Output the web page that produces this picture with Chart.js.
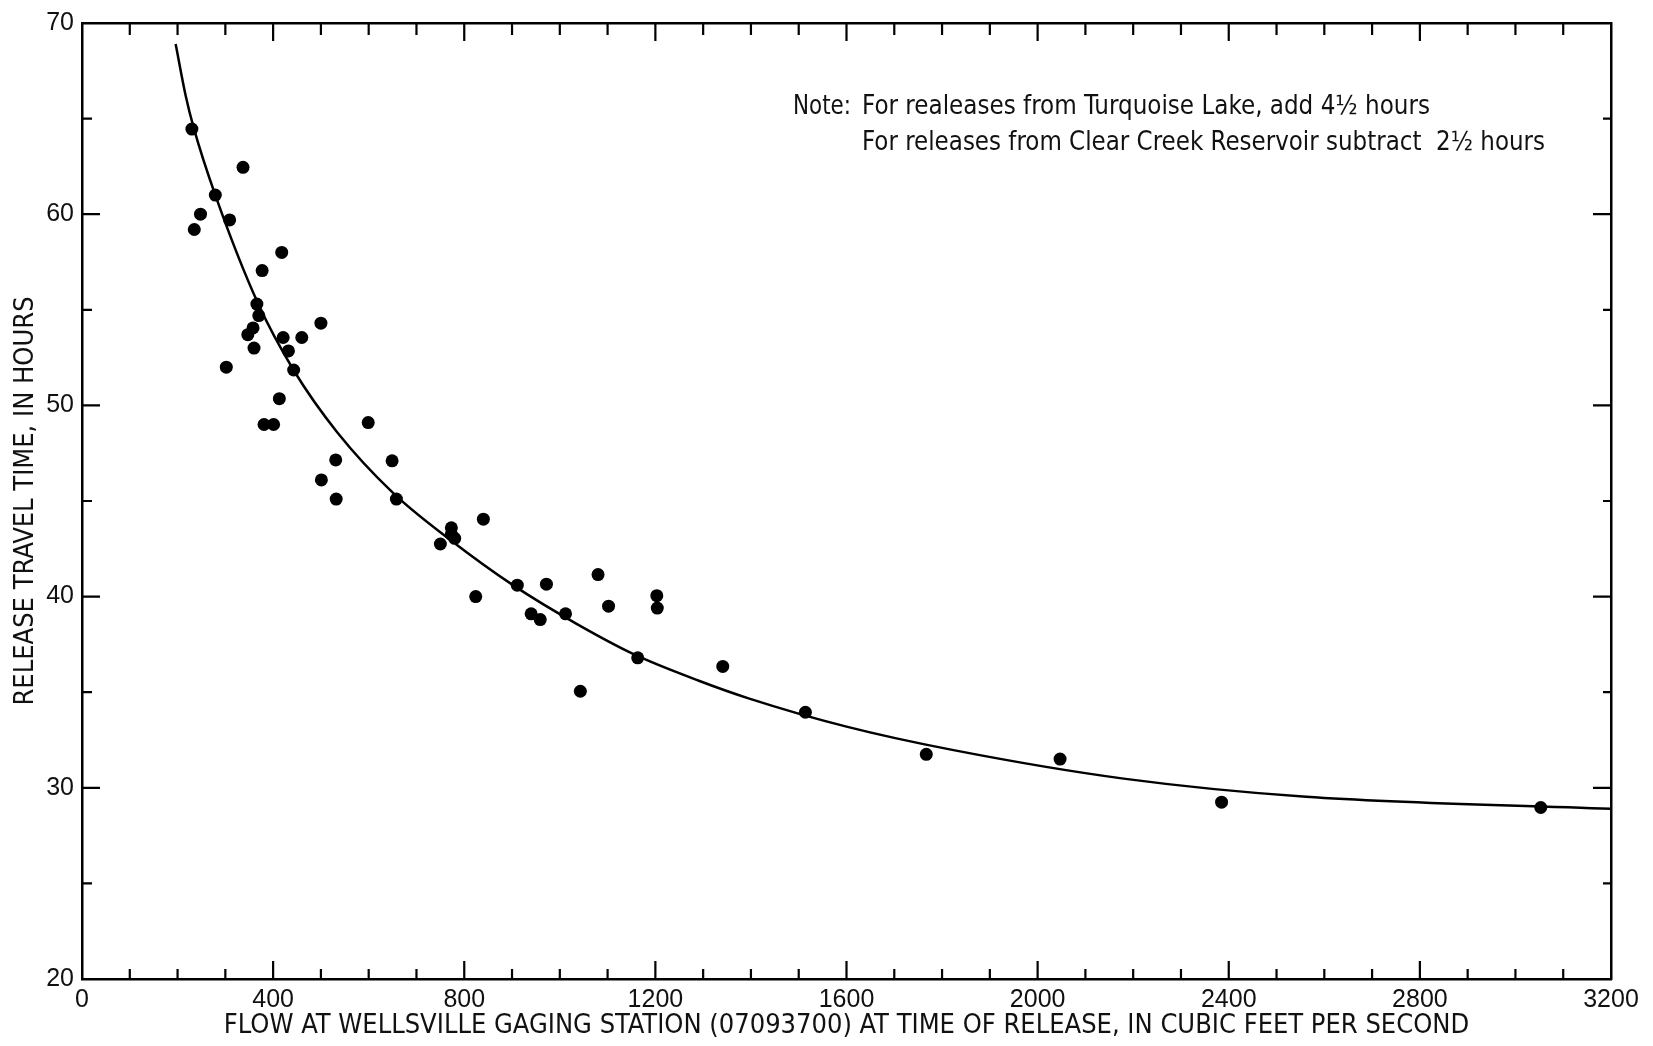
<!DOCTYPE html>
<html>
<head>
<meta charset="utf-8">
<title>Release travel time vs flow at Wellsville</title>
<script src="https://cdn.jsdelivr.net/npm/chart.js@4.4.1/dist/chart.umd.min.js"></script>
<style>
  html, body { margin: 0; padding: 0; background: #fff; }
  #wrap { width: 1653px; height: 1046px; }
</style>
</head>
<body>
<div id="wrap"><canvas id="chart" width="1653" height="1046"></canvas></div>
<script>
// measured releases: flow (cfs) and travel time (hours)
const flowCfs = [230, 235, 248, 279, 309, 337, 302, 377, 366, 370, 358, 347, 360, 418, 421, 460, 432, 443, 500, 413,
  381, 401, 599, 501, 531, 532, 649, 658, 750, 773, 773, 780, 840, 824, 911, 940, 959, 972, 1012, 1043,
  1080, 1102, 1163, 1203, 1204, 1341, 1514, 1767, 2047, 2385, 3053];
const travelHours = [64.45, 59.2, 60.0, 61.0, 59.7, 62.45, 52.0, 57.05, 55.3, 54.7, 54.05, 53.7, 53.0, 58.0, 53.55, 53.55, 52.85, 51.85, 54.3, 50.35,
  49.0, 49.0, 49.1, 46.1, 47.15, 45.1, 47.1, 45.1, 42.75, 43.6, 43.25, 43.05, 44.05, 40.0, 40.6, 39.1, 38.8, 40.65, 39.1, 35.05,
  41.15, 39.5, 36.8, 40.05, 39.4, 36.35, 33.95, 31.75, 31.5, 29.25, 28.97];

// fitted curve
const curveFlow = [196, 217, 234, 279, 369, 444, 534, 652, 769, 902, 1037, 1158, 1291, 1395, 1600, 1824, 2180, 2562, 3199];
const curveHours = [68.9, 66.2, 64.5, 61.0, 55.3, 51.8, 48.6, 45.4, 43.0, 40.6, 38.55, 36.95, 35.6, 34.68, 33.2, 31.97, 30.48, 29.53, 28.9];

const xTickLabels = [0, 400, 800, 1200, 1600, 2000, 2400, 2800, 3200];
const yTickLabels = [20, 30, 40, 50, 60, 70];

const xTitle = "FLOW AT WELLSVILLE GAGING STATION (07093700) AT TIME OF RELEASE, IN CUBIC FEET PER SECOND";
const yTitle = "RELEASE TRAVEL TIME, IN HOURS";
const noteHead = "Note:";
const noteLines = [
  "For realeases from Turquoise Lake, add 4½ hours",
  "For releases from Clear Creek Reservoir subtract  2½ hours"
];

const letterFamily = "'DejaVu Sans Condensed', 'Liberation Sans Narrow', 'DejaVu Sans', sans-serif";
const titleFont = { family: letterFamily, size: 27 };
const tickFont = { family: "'Liberation Sans', Arial, sans-serif", size: 25 };

// inward tick marks on all four sides, like the original drafting
const inwardTicks = {
  id: "inwardTicks",
  afterDraw(chart) {
    const { ctx, chartArea: a, scales: { x, y } } = chart;
    ctx.save();
    ctx.strokeStyle = "#000";
    ctx.lineWidth = 2.2;
    ctx.beginPath();
    for (let v = 100; v < 3200; v += 100) {
      const px = x.getPixelForValue(v);
      const major = v % 400 === 0;
      ctx.moveTo(px, a.bottom);
      ctx.lineTo(px, a.bottom - (major ? 18 : 10));
      ctx.moveTo(px, a.top);
      ctx.lineTo(px, a.top + (major ? 18 : 12));
    }
    for (let v = 25; v < 70; v += 5) {
      const py = y.getPixelForValue(v);
      const major = v % 10 === 0;
      ctx.moveTo(a.left, py);
      ctx.lineTo(a.left + (major ? 18 : 10), py);
      ctx.moveTo(a.right, py);
      ctx.lineTo(a.right - (major ? 18 : 8), py);
    }
    ctx.stroke();
    ctx.restore();
  }
};

// the note in the upper right, squeezed to the lettering width of the original
const notePlugin = {
  id: "note",
  afterDraw(chart) {
    const ctx = chart.ctx;
    ctx.save();
    ctx.fillStyle = "#111";
    ctx.font = "27px " + letterFamily;
    ctx.textBaseline = "middle";
    const fit = (text, x, y, w) => {
      const m = ctx.measureText(text).width;
      ctx.save();
      ctx.translate(x, y);
      ctx.scale(w / m, 1);
      ctx.fillText(text, 0, 0);
      ctx.restore();
    };
    fit(noteHead, 793, 107, 58);
    fit(noteLines[0], 862, 107, 568);
    fit(noteLines[1], 862, 143, 683);
    ctx.restore();
  }
};

const points = flowCfs.map((f, i) => ({ x: f, y: travelHours[i] }));
const curve = curveFlow.map((f, i) => ({ x: f, y: curveHours[i] }));

const border = { display: true, color: "#000", width: 2.5 };

new Chart(document.getElementById("chart"), {
  type: "scatter",
  data: {
    datasets: [
      {
        label: "Curve",
        type: "line",
        data: curve,
        borderColor: "#000",
        borderWidth: 2.5,
        pointRadius: 0,
        fill: false,
        cubicInterpolationMode: "monotone"
      },
      {
        label: "Releases",
        data: points,
        backgroundColor: "#000",
        borderWidth: 0,
        pointRadius: 6.5
      }
    ]
  },
  options: {
    responsive: false,
    animation: false,
    layout: { padding: 0 },
    plugins: { legend: { display: false }, tooltip: { enabled: false } },
    scales: {
      x: {
        type: "linear",
        position: "bottom",
        min: 0,
        max: 3200,
        afterFit: s => { s.height = 67; },
        afterBuildTicks: s => { s.ticks = xTickLabels.map(v => ({ value: v })); },
        ticks: { callback: v => String(v), color: "#111", font: tickFont, padding: 6, maxRotation: 0, autoSkip: false },
        grid: { display: false, drawTicks: false },
        border: border,
        title: { display: true, text: xTitle, color: "#111", font: titleFont, padding: { top: 0, bottom: 4 } }
      },
      y: {
        type: "linear",
        position: "left",
        min: 20,
        max: 70,
        afterFit: s => { s.width = 82; },
        afterBuildTicks: s => { s.ticks = yTickLabels.map(v => ({ value: v })); },
        ticks: { callback: v => String(v), color: "#111", font: tickFont, padding: 8 },
        grid: { display: false, drawTicks: false },
        border: border,
        title: { display: true, text: yTitle, color: "#111", font: titleFont, padding: { top: 10, bottom: 0 } }
      },
      x2: {
        type: "linear",
        position: "top",
        min: 0,
        max: 3200,
        afterFit: s => { s.height = 19; },
        ticks: { display: false },
        grid: { display: false, drawTicks: false },
        border: border
      },
      y2: {
        type: "linear",
        position: "right",
        min: 20,
        max: 70,
        afterFit: s => { s.width = 42; },
        ticks: { display: false },
        grid: { display: false, drawTicks: false },
        border: border
      }
    }
  },
  plugins: [inwardTicks, notePlugin]
});
</script>
</body>
</html>
